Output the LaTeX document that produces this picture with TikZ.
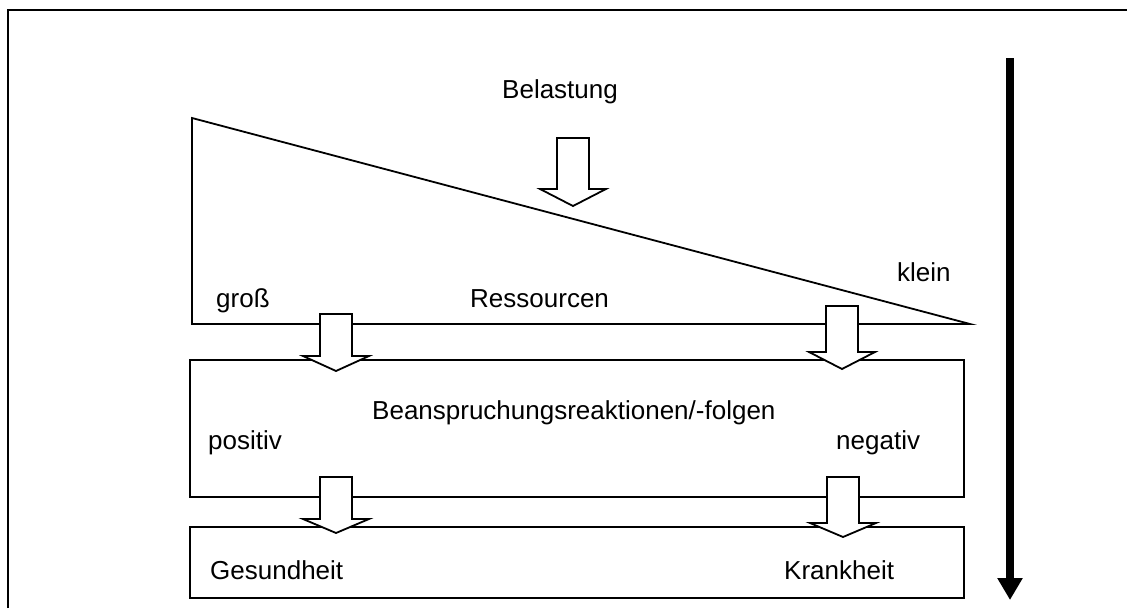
\documentclass[tikz,border=0pt]{standalone}
\usepackage{fontspec}
\setmainfont{Liberation Sans}
\usetikzlibrary{arrows.meta}

\begin{document}
\begin{tikzpicture}[x=1pt, y=-1pt, font=\fontsize{26}{31}\selectfont]
\tikzset{outline/.style={draw, line width=1.8pt, line join=miter},
  label/.style={anchor=base west, inner sep=0pt},
  pics/blockarrow/.style n args={2}{code={
    \draw[outline, fill=white] (-16,0) -- (16,0) -- (16,#1) -- (33,#1) -- (0,#2) -- (-33,#1) -- (-16,#1) -- cycle;}}}
\useasboundingbox (0,0) rectangle (1127,608);
% frame (right and bottom edges lie outside the page)
\draw[line width=2.4pt] (8,608) -- (8,10) -- (1127,10);
% resource wedge and the two boxes
\draw[outline] (192,118) -- (970,324) -- (192,324) -- cycle;
\draw[outline] (190,360) rectangle (964,497);
\draw[outline] (190,527) rectangle (964,598);
% block arrows
\pic at (573,138) {blockarrow={51}{68}};
\pic at (336,314) {blockarrow={42}{57}};
\pic at (842,306) {blockarrow={46}{63}};
\pic at (336,477) {blockarrow={42}{56}};
\pic at (843,477) {blockarrow={46}{60}};
% labels
\node[label] (belastung) at (502,98) {Belastung};
\node[label] (gross) at (216,307) {groß};
\node[label] (ressourcen) at (470,307) {Ressourcen};
\node[label] (klein) at (897,281) {klein};
\node[label] (reaktionen) at (372,419) {Beanspruchungsreaktionen/-folgen};
\node[label] (positiv) at (208,449) {positiv};
\node[label] (negativ) at (836,449) {negativ};
\node[label] (gesundheit) at (210,579) {Gesundheit};
\node[label] (krankheit) at (784,579) {Krankheit};
% direction arrow
\coordinate (top) at (1010,58);
\coordinate (bottom) at (1010,600);
\draw[line width=8pt, -{Triangle[width=24pt,length=22pt]}] (top) -- (bottom);
\end{tikzpicture}
\end{document}
